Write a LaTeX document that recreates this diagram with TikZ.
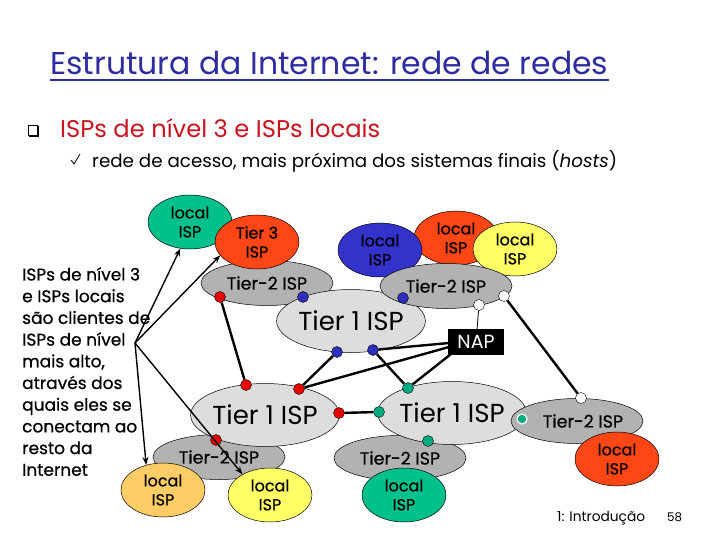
\documentclass[tikz,border=0pt]{standalone}
\usepackage{fontspec}
\usepackage{graphicx}
\setmainfont{Poppins}
\newfontfamily\boldish{Poppins}[FakeBold=0.6]
\usetikzlibrary{arrows.meta,shapes.geometric}
\definecolor{titleblue}{RGB}{45,45,160}
\definecolor{bulletred}{RGB}{200,20,30}
\definecolor{cteal}{RGB}{0,192,140}
\definecolor{cred}{RGB}{255,70,20}
\definecolor{cblue}{RGB}{51,51,204}
\definecolor{cyellow}{RGB}{255,255,102}
\definecolor{corange}{RGB}{255,204,102}
\definecolor{t2grey}{RGB}{178,178,178}
\definecolor{t1grey}{RGB}{221,221,221}
\definecolor{dred}{RGB}{235,0,0}
\definecolor{dblue}{RGB}{45,45,190}
\definecolor{dteal}{RGB}{0,170,130}
\begin{document}
\begin{tikzpicture}[x=1pt,y=-1pt,
  every node/.style={inner sep=0pt},
  isp/.style={ellipse, draw=black, line width=0.5pt, align=center, font=\boldish\fontsize{16}{19}\selectfont},
  small/.style={minimum width=84pt, minimum height=54pt},
  t2/.style={isp, fill=t2grey, minimum width=132pt, minimum height=45pt, font=\boldish\fontsize{17.5}{19}\selectfont},
  t1/.style={isp, fill=t1grey, minimum width=146pt, minimum height=63pt, font=\fontsize{26}{28}\selectfont},
  dot/.style={circle, draw=black, line width=0.4pt, minimum size=11pt},
  link/.style={draw=black, line width=2.4pt},
  thinlink/.style={draw=black, line width=0.8pt},
  arr/.style={draw=black, line width=1.4pt, -{Stealth[length=8pt,width=6pt]}}
]
\fill[white] (0,0) rectangle (720,540);
\useasboundingbox (0,0) rectangle (720,540);

% title
\node[anchor=base west, text=titleblue] (title) at (50,75) {\resizebox{558pt}{!}{Estrutura da Internet: rede de redes}};
\draw[titleblue, line width=1.6pt] (50,80) -- (609,80);

% bullets
\draw[black, line width=0.7pt] (28,125) rectangle (37,135);
\draw[black, line width=1.4pt] (29,136) -- (38,136) -- (38,126);
\node[anchor=base west, text=bulletred] (b1) at (60,138) {\resizebox{320pt}{!}{ISPs de nível 3 e ISPs locais}};
\draw[black, line width=0.8pt] (71,160) -- (74,164) -- (80,154);
\node[anchor=base west] (b2) at (92,168) {\resizebox{525pt}{!}{rede de acesso, mais próxima dos sistemas finais (\textit{hosts})}};

% left text
\node[anchor=north west, align=left, font=\boldish\fontsize{17}{21.7}\selectfont] (lt) at (22,267)
 {ISPs de nível 3\\e ISPs locais\\são clientes de\\ISPs de nível\\mais alto,\\através dos\\quais eles se\\conectam ao\\resto da\\Internet};

% ellipses
\node[isp,small,fill=cteal] (lg1) at (190,222) {local\\ISP};
\node[t2] (t2a) at (267,283) {Tier-2 ISP};
\node[isp,small,fill=cred] (t3) at (257,242) {Tier 3\\ISP};
\node[isp,small,fill=cred] (lr1) at (456,238) {local\\ISP};
\node[isp,small,fill=cblue] (lb1) at (380,250) {local\\ISP};
\node[isp,small,fill=cyellow] (ly1) at (515,249) {local\\ISP};
\node[t1] (t1a) at (351,321) {Tier 1 ISP};
\node[t2] (t2b) at (446,286) {Tier-2 ISP};

\node[t2] (t2c) at (219,457) {Tier-2 ISP};
\node[t2] (t2d) at (400,458) {Tier-2 ISP};
\node[t1] (t1b) at (265,415) {Tier 1 ISP};
\node[t1] (t1c) at (452,413) {Tier 1 ISP};
\node[t2] (t2e) at (577,421) {\hspace*{12pt}Tier-2 ISP};
\node[isp,small,fill=corange] (lo) at (163,490) {local\\ISP};
\node[isp,small,fill=cyellow] (ly2) at (270,495) {local\\ISP};
\node[isp,small,fill=cteal] (lg2) at (404,495) {local\\ISP};
\node[isp,small,fill=cred] (lr2) at (617,459) {local\\ISP};

% NAP
\node[fill=black, text=white, minimum width=56pt, minimum height=26pt, font=\fontsize{19}{20}\selectfont] (nap) at (476,342) {NAP};

% dots
\node[dot,fill=dred] (r1) at (220,297) {};
\node[dot,fill=dred] (r2) at (246,385) {};
\node[dot,fill=dred] (r3) at (299,389) {};
\node[dot,fill=dred] (r4) at (339,413) {};
\node[dot,fill=dred] (r5) at (216,440) {};
\node[dot,fill=dblue] (u1) at (303,297) {};
\node[dot,fill=dblue] (u2) at (337,352) {};
\node[dot,fill=dblue] (u3) at (373,350) {};
\node[dot,fill=dblue] (u4) at (403,298) {};
\node[dot,fill=white] (w1) at (479,305) {};
\node[dot,fill=white] (w2) at (504,296) {};
\node[dot,fill=white] (w3) at (581,398) {};
\node[dot,fill=dteal] (g1) at (408,388) {};
\node[dot,fill=dteal] (g2) at (379,412) {};
\node[dot,fill=dteal] (g3) at (428,441) {};
\node[circle,fill=dteal,draw=white,line width=1.2pt,minimum size=10pt] (g4) at (522,419) {};

% connectors
\coordinate (n1) at (449,343);
\coordinate (n2) at (449,347);
\coordinate (n3) at (451,354);
\draw[link] (r1) -- (r2);
\draw[link] (r3) -- (u2);
\draw[link] (r3) -- (n2);
\draw[link] (r4) -- (g2);
\draw[link] (u3) -- (n1);
\draw[link] (u3) -- (g1);
\draw[link] (g1) -- (n3);
\draw[thinlink] (w1) -- (nap);
\draw[link] (w2) -- (w3);

% arrows from the text
\coordinate (src) at (135,343);
\draw[arr] (src) -- (lg1.250);
\draw[arr] (src) -- (t3.200);
\draw[arr] (src) -- (lo.124);
\draw[arr] (src) -- (ly2.143);

% footer
\node[anchor=base west] (foot) at (557,521) {\resizebox{88pt}{!}{1: Introdução}};
\node[anchor=base west] (pg) at (667,521) {\resizebox{15pt}{!}{58}};
\end{tikzpicture}
\end{document}
